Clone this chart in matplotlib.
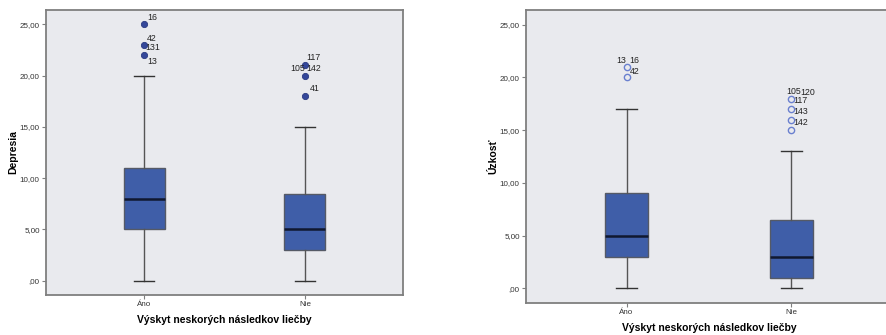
import matplotlib.pyplot as plt

plt.rcParams["font.family"] = ["Liberation Sans", "DejaVu Sans"]

groups = ["Áno", "Nie"]
xlabel = "Výskyt neskorých následkov liečby"

# Depresia
dep_low = [0, 0]
dep_q1 = [5, 3]
dep_med = [8, 5]
dep_q3 = [11, 8.5]
dep_high = [20, 15]
dep_out = [[25, 23, 22], [21, 20, 18]]
dep_labels = [
    [("16", 25.7, 0.02), ("42", 23.65, 0.02), ("131", 22.7, 0.01), ("13", 21.4, 0.02)],
    [("117", 21.8, 0.01), ("105", 20.7, -0.09), ("142", 20.7, 0.01), ("41", 18.7, 0.03)],
]

# Úzkosť
anx_low = [0, 0]
anx_q1 = [3, 1]
anx_med = [5, 3]
anx_q3 = [9, 6.5]
anx_high = [17, 13]
anx_out = [[21, 20], [18, 17, 16, 15]]
anx_labels = [
    [("13", 21.6, -0.06), ("16", 21.6, 0.015), ("42", 20.6, 0.02)],
    [("105", 18.7, -0.03), ("120", 18.55, 0.055), ("117", 17.8, 0.01),
     ("143", 16.8, 0.01), ("142", 15.7, 0.01)],
]

box_color = "#3f5ea8"
bg = "#e9eaee"
frame = "#7f7f7f"


def draw(ax, low, q1, med, q3, high, outs, labels, ylabel, filled, ypad, xpad):
    stats = []
    for i in range(len(groups)):
        stats.append(dict(whislo=low[i], q1=q1[i], med=med[i], q3=q3[i],
                          whishi=high[i], fliers=outs[i]))
    if filled:
        flier = dict(marker="o", markersize=4.5, markerfacecolor="#34479a",
                     markeredgecolor="#2a3a80", markeredgewidth=0.6)
    else:
        flier = dict(marker="o", markersize=4.5, markerfacecolor="none",
                     markeredgecolor="#6a80cf", markeredgewidth=1.0)
    ax.bxp(stats, positions=[1, 2], widths=0.256, patch_artist=True,
           boxprops=dict(facecolor=box_color, edgecolor="#555a66", linewidth=1.0),
           medianprops=dict(color="#101830", linewidth=1.8),
           whiskerprops=dict(color="#555555", linewidth=1.0),
           capprops=dict(color="#333333", linewidth=1.0),
           capwidths=0.125, flierprops=flier)
    for i, labs in enumerate(labels):
        for txt, y, dx in labs:
            ax.text(i + 1 + dx, y, txt, fontsize=6.3, color="#222222",
                    ha="left", va="center")
    ax.set_facecolor(bg)
    ax.set_xlim(0.39, 2.61)
    ax.set_ylim(-1.4, 26.4)
    ax.set_yticks([0, 5, 10, 15, 20, 25])
    ax.set_yticklabels([",00", "5,00", "10,00", "15,00", "20,00", "25,00"])
    ax.set_xticks([1, 2])
    ax.set_xticklabels(groups)
    ax.tick_params(labelsize=5.8, length=3, color=frame, labelcolor="#333333", pad=1.5)
    for s in ax.spines.values():
        s.set_color(frame)
        s.set_linewidth(1.3)
    ax.set_ylabel(ylabel, fontsize=7.5, fontweight="bold", labelpad=ypad)
    ax.set_xlabel(xlabel, fontsize=7.5, fontweight="bold", labelpad=xpad)


fig = plt.figure(figsize=(8.86, 3.35), dpi=100)
W, H = 886, 335
ax1 = fig.add_axes([46 / W, 1 - 295 / H, (403 - 46) / W, (295 - 10) / H])
ax2 = fig.add_axes([526 / W, 1 - 303 / H, (892 - 526) / W, (303 - 10) / H])

draw(ax1, dep_low, dep_q1, dep_med, dep_q3, dep_high, dep_out, dep_labels,
     "Depresia", True, 1, 5)
draw(ax2, anx_low, anx_q1, anx_med, anx_q3, anx_high, anx_out, anx_labels,
     "Úzkosť", False, 1, 5)

fig.savefig("out.png", dpi=100)
